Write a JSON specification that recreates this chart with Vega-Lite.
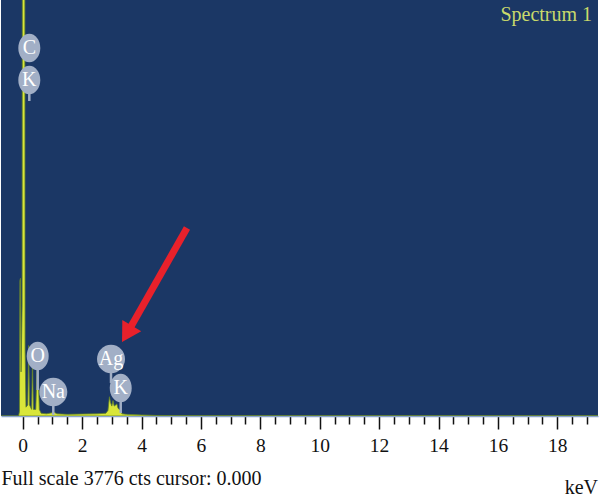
{
  "$schema": "https://vega.github.io/schema/vega-lite/v6.json",
  "width": 597,
  "height": 416,
  "autosize": {"type": "none"},
  "padding": {"left": 1, "top": 0, "right": 2, "bottom": 84},
  "background": "white",
  "config": {"view": {"fill": "#1b3765", "stroke": null}, "font": "Liberation Serif"},
  "title": {"text": "keV", "orient": "bottom", "anchor": "end", "frame": "group", "font": "Liberation Serif", "fontSize": 20, "fontWeight": "normal", "color": "#111111", "offset": -11},
  "datasets": {
    "spectrum": [
      {"keV": -0.731, "counts": 0},
      {"keV": -0.14, "counts": 0},
      {"keV": -0.11, "counts": 40},
      {"keV": -0.095, "counts": 1230},
      {"keV": -0.075, "counts": 1250},
      {"keV": -0.055, "counts": 400},
      {"keV": -0.02, "counts": 1000},
      {"keV": 0.0, "counts": 9000},
      {"keV": 0.06, "counts": 9000},
      {"keV": 0.08, "counts": 600},
      {"keV": 0.11, "counts": 80},
      {"keV": 0.17, "counts": 100},
      {"keV": 0.2, "counts": 640},
      {"keV": 0.23, "counts": 100},
      {"keV": 0.3, "counts": 60},
      {"keV": 0.33, "counts": 510},
      {"keV": 0.36, "counts": 60},
      {"keV": 0.44, "counts": 60},
      {"keV": 0.48, "counts": 420},
      {"keV": 0.52, "counts": 400},
      {"keV": 0.56, "counts": 60},
      {"keV": 0.62, "counts": 25},
      {"keV": 0.8, "counts": 20},
      {"keV": 1.0, "counts": 30},
      {"keV": 1.05, "counts": 35},
      {"keV": 1.15, "counts": 20},
      {"keV": 1.5, "counts": 15},
      {"keV": 2.0, "counts": 18},
      {"keV": 2.5, "counts": 20},
      {"keV": 2.8, "counts": 25},
      {"keV": 2.87, "counts": 50},
      {"keV": 2.92, "counts": 175},
      {"keV": 2.96, "counts": 120},
      {"keV": 3.0, "counts": 90},
      {"keV": 3.04, "counts": 140},
      {"keV": 3.08, "counts": 90},
      {"keV": 3.13, "counts": 100},
      {"keV": 3.17, "counts": 110},
      {"keV": 3.21, "counts": 70},
      {"keV": 3.25, "counts": 60},
      {"keV": 3.29, "counts": 55},
      {"keV": 3.34, "counts": 20},
      {"keV": 3.5, "counts": 15},
      {"keV": 4.0, "counts": 10},
      {"keV": 4.5, "counts": 5},
      {"keV": 6.0, "counts": 3},
      {"keV": 10.0, "counts": 2},
      {"keV": 19.37, "counts": 2}
    ],
    "labels": [
      {"el": "C", "keV": 0.222, "counts": 3340, "end": 3340},
      {"el": "K", "keV": 0.222, "counts": 3050, "end": 2859},
      {"el": "O", "keV": 0.505, "counts": 545, "end": 236},
      {"el": "Na", "keV": 1.03, "counts": 218, "end": 10},
      {"el": "Ag", "keV": 2.973, "counts": 517, "end": 300},
      {"el": "K", "keV": 3.3, "counts": 254, "end": 27}
    ],
    "arrow": [{"keV": 5.531, "counts": 1706, "keV2": 3.579, "counts2": 781}],
    "head": [{"keV": 3.508, "counts": 746}],
    "tag": [{"text": "Spectrum 1", "keV": 19.17, "counts": 3588}]
  },
  "encoding": {
    "x": {
      "field": "keV", "type": "quantitative",
      "scale": {"domain": [-0.731, 19.37], "nice": false, "zero": false},
      "axis": {
        "values": [0,0.5,1,1.5,2,2.5,3,3.5,4,4.5,5,5.5,6,6.5,7,7.5,8,8.5,9,9.5,10,10.5,11,11.5,12,12.5,13,13.5,14,14.5,15,15.5,16,16.5,17,17.5,18,18.5,19],
        "labelExpr": "datum.value % 2 === 0 ? '' + datum.value : ''",
        "labelOverlap": false,
        "labelFlush": false,
        "tickSize": {"condition": {"test": "datum.value % 2 === 0", "value": 13}, "value": 8},
        "tickColor": "#111111",
        "tickWidth": 1.5,
        "domainColor": "#8aa4cc",
        "domainWidth": 1.5,
        "grid": false,
        "labelFont": "Liberation Serif",
        "labelFontSize": 19.5,
        "labelColor": "#111111",
        "labelPadding": 7,
        "title": "Full scale 3776 cts cursor: 0.000",
        "titleAnchor": "start",
        "titleAlign": "left",
        "titleFont": "Liberation Serif",
        "titleFontSize": 20,
        "titleFontWeight": "normal",
        "titleColor": "#111111",
        "titlePadding": 14
      }
    },
    "y": {"field": "counts", "type": "quantitative", "scale": {"domain": [0, 3776], "nice": false}, "axis": null}
  },
  "layer": [
    {
      "data": {"name": "spectrum"},
      "mark": {"type": "area", "color": "#d9e63a", "stroke": "#5f7f2c", "strokeWidth": 0.8, "clip": true}
    },
    {
      "data": {"name": "labels"},
      "mark": {"type": "rule", "color": "#a2afc6", "strokeWidth": 2.5},
      "encoding": {"y2": {"field": "end"}}
    },
    {
      "data": {"name": "labels"},
      "transform": [{"filter": "length(datum.el) === 1"}],
      "mark": {"type": "point", "filled": true, "opacity": 1, "color": "#a2afc6", "size": 484,
        "shape": "M0,-1.3C0.552,-1.3,1,-0.718,1,0C1,0.718,0.552,1.3,0,1.3C-0.552,1.3,-1,0.718,-1,0C-1,-0.718,-0.552,-1.3,0,-1.3Z"}
    },
    {
      "data": {"name": "labels"},
      "transform": [{"filter": "length(datum.el) > 1"}],
      "mark": {"type": "point", "filled": true, "opacity": 1, "color": "#a2afc6", "size": 784,
        "shape": "M0,-1.02C0.552,-1.02,1,-0.563,1,0C1,0.563,0.552,1.02,0,1.02C-0.552,1.02,-1,0.563,-1,0C-1,-0.563,-0.552,-1.02,0,-1.02Z"}
    },
    {
      "data": {"name": "labels"},
      "mark": {"type": "text", "font": "Liberation Serif", "fontSize": 20, "color": "white", "baseline": "middle", "align": "center"},
      "encoding": {"text": {"field": "el"}}
    },
    {
      "data": {"name": "arrow"},
      "mark": {"type": "rule", "color": "#e8212b", "strokeWidth": 7},
      "encoding": {"x2": {"field": "keV2"}, "y2": {"field": "counts2"}}
    },
    {
      "data": {"name": "head"},
      "mark": {"type": "point", "shape": "triangle-up", "filled": true, "opacity": 1, "color": "#e8212b", "size": 484, "angle": 210.7}
    },
    {
      "data": {"name": "tag"},
      "mark": {"type": "text", "font": "Liberation Serif", "fontSize": 20, "color": "#c9d96b", "align": "right", "baseline": "alphabetic"},
      "encoding": {"text": {"field": "text"}}
    }
  ]
}
